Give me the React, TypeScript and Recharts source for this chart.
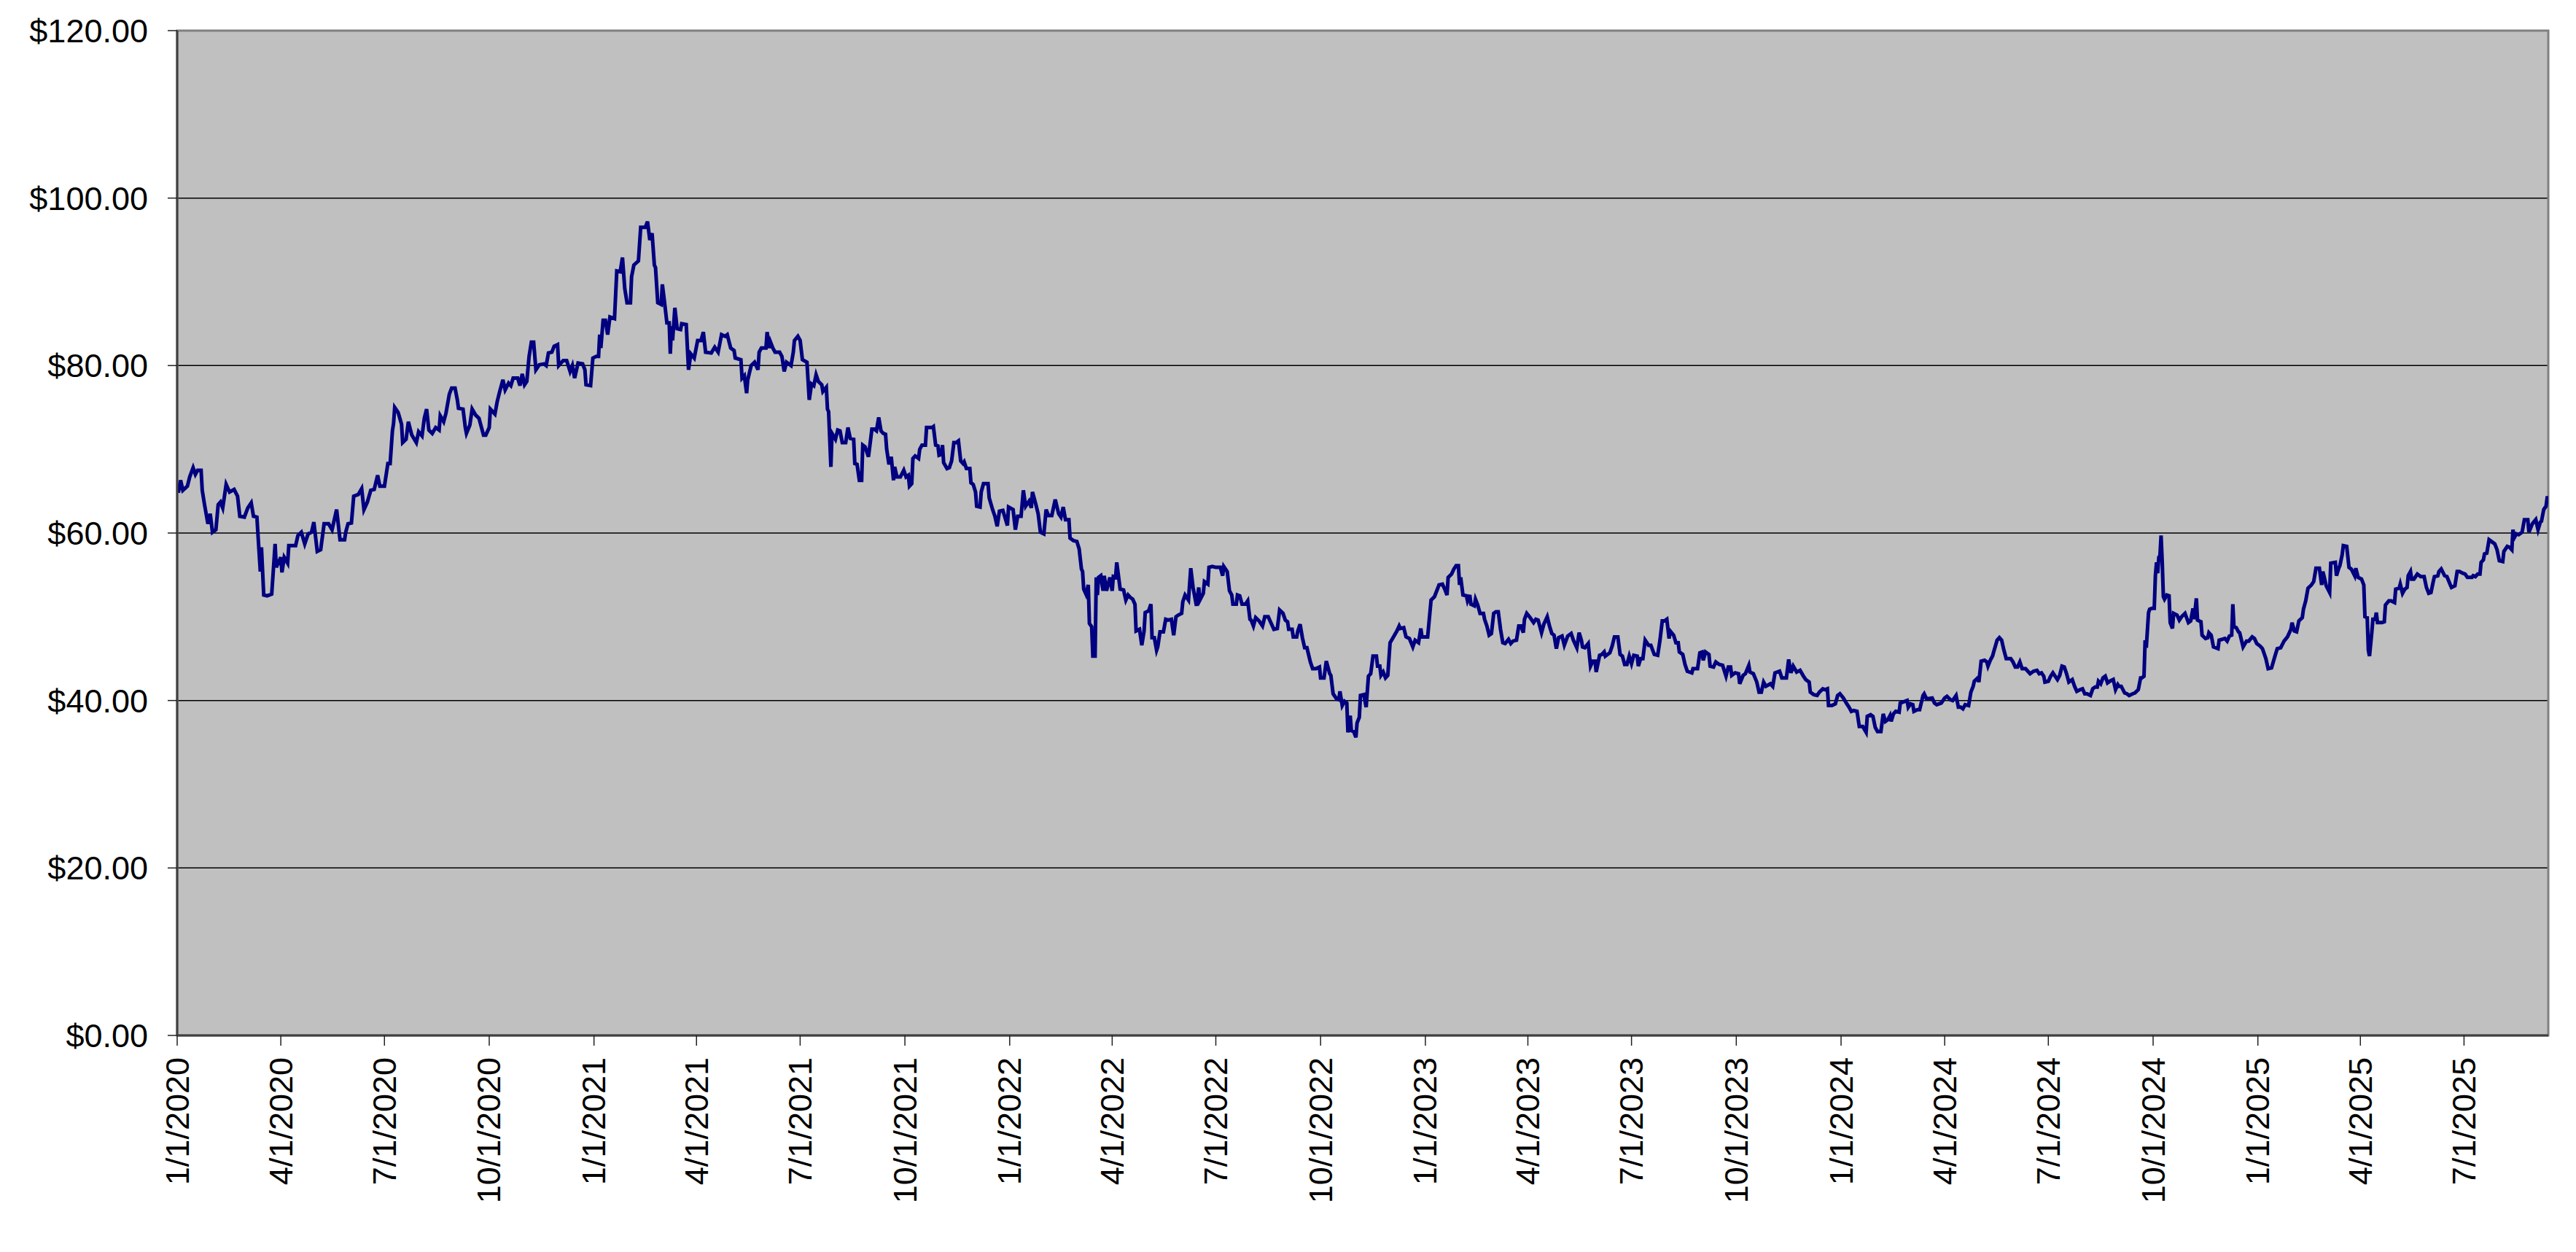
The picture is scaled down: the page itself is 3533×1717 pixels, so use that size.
import React from 'react';
import { LineChart, Line, XAxis, YAxis, CartesianGrid, ReferenceArea } from 'recharts';

// Daily-ish closing prices, as [day of year (0 = Jan 1), price].
const y2020: [number, number][] = [
  [1, 64.8], [3, 66.3], [5, 65.1], [9, 65.6], [11, 66.7], [14, 67.8], [16, 67.0], [18, 67.5], [21, 67.5], [22, 65.1],
  [24, 63.4], [27, 61.1], [29, 62.3], [31, 60.1], [34, 60.4], [36, 63.4], [38, 63.7], [40, 63.0], [43, 65.8], [46, 64.9],
  [50, 65.2], [53, 64.4], [55, 62.0], [59, 61.9], [62, 63.0], [65, 63.6], [67, 62.0], [70, 61.9], [71, 59.7], [73, 55.4],
  [74, 58.3], [76, 52.6], [79, 52.5], [83, 52.7], [86, 58.7], [87, 55.9], [91, 57.1], [92, 55.3], [94, 57.1], [97, 56.4],
  [98, 58.5], [104, 58.5], [106, 59.7], [109, 60.1], [112, 58.7], [115, 59.9], [118, 60.1], [120, 61.3], [123, 57.8], [126, 58.0],
  [129, 61.1], [133, 61.1], [136, 60.4], [140, 62.8], [143, 59.2], [147, 59.2], [148, 60.1], [150, 61.1], [153, 61.2], [155, 64.4],
  [159, 64.6], [162, 65.3], [164, 62.8], [167, 63.7], [170, 65.1], [173, 65.2], [176, 66.9], [178, 65.6], [182, 65.6], [185, 68.3],
  [187, 68.3], [189, 72.2], [190, 73.1], [191, 75.0], [194, 74.4], [197, 73.0], [198, 70.8], [201, 71.2], [203, 73.3], [206, 71.7],
  [210, 70.8], [212, 72.1], [215, 71.6], [217, 73.7], [219, 74.8], [221, 72.3], [224, 71.9], [227, 72.6], [230, 72.3], [231, 74.0],
  [234, 73.3], [236, 74.3], [239, 76.6], [241, 77.3], [244, 77.3], [246, 75.9], [247, 74.9], [251, 74.8], [253, 72.6], [254, 71.9],
  [257, 72.9], [259, 74.8], [262, 74.1], [265, 73.7], [269, 71.7], [271, 71.7], [274, 72.6], [275, 74.8], [279, 74.2], [281, 75.7],
  [283, 76.8], [286, 78.3], [288, 77.1], [291, 77.9], [293, 77.6], [295, 78.5], [299, 78.5], [301, 77.6], [303, 79.0], [305, 77.7],
  [307, 78.1], [309, 81.1], [311, 82.8], [313, 82.8], [315, 79.5], [318, 80.1], [322, 80.2], [324, 80.0], [326, 81.5], [329, 81.6],
  [331, 82.3], [334, 82.5], [335, 80.0], [339, 80.6], [342, 80.6], [345, 79.3], [347, 80.0], [349, 78.5], [352, 80.3], [356, 80.2],
  [358, 79.5], [359, 77.7], [363, 77.6], [365, 80.9],
];

const y2021: [number, number][] = [
  [2, 81.1], [4, 81.1], [5, 83.7], [6, 82.1], [8, 85.4], [10, 85.4], [12, 83.7], [14, 85.8], [18, 85.6], [20, 91.3],
  [23, 91.2], [25, 92.9], [27, 89.2], [29, 87.5], [32, 87.5], [33, 90.6], [35, 92.0], [39, 92.5], [41, 96.5], [45, 96.5],
  [47, 97.2], [49, 95.0], [51, 95.8], [53, 92.0], [54, 91.7], [56, 87.5], [59, 87.3], [60, 89.7], [62, 87.5], [64, 85.1],
  [66, 85.1], [67, 81.4], [68, 84.7], [69, 83.0], [71, 86.9], [73, 84.4], [76, 84.3], [77, 85.0], [81, 84.9], [82, 82.1],
  [83, 79.5], [85, 81.4], [88, 80.9], [91, 83.0], [94, 83.0], [96, 84.0], [98, 81.6], [103, 81.5], [106, 82.2], [109, 81.6],
  [112, 83.7], [115, 83.5], [117, 83.7], [120, 82.1], [123, 81.8], [124, 80.9], [129, 80.7], [130, 78.5], [132, 78.8], [134, 76.7],
  [135, 78.3], [138, 80.0], [141, 80.4], [144, 79.5], [145, 81.6], [147, 82.1], [151, 82.1], [152, 84.0], [154, 82.1], [155, 82.8],
  [157, 82.1], [159, 81.6], [163, 81.6], [165, 81.1], [167, 79.3], [169, 80.4], [173, 80.0], [175, 81.6], [176, 83.0], [179, 83.5],
  [181, 83.0], [183, 80.7], [187, 80.4], [188, 78.1], [189, 75.9], [191, 77.8], [193, 77.6], [195, 78.9], [197, 78.1], [200, 77.7],
  [201, 76.9], [204, 77.4], [205, 74.8], [206, 74.5], [208, 67.9], [209, 71.9], [212, 71.2], [214, 72.3], [216, 72.2], [218, 70.8],
  [221, 70.8], [223, 72.6], [225, 71.3], [228, 71.2], [229, 68.3], [231, 68.2], [233, 66.3], [235, 66.3], [236, 70.5], [238, 70.3],
  [241, 69.1], [244, 72.4], [246, 72.4], [248, 72.2], [250, 73.8], [252, 72.2], [254, 71.9], [256, 71.8], [257, 70.0], [259, 68.2],
  [261, 69.1], [263, 66.3], [264, 67.9], [266, 66.7], [269, 66.7], [272, 67.5], [274, 66.7], [276, 66.9], [277, 65.6], [279, 65.9],
  [280, 68.9], [282, 69.2], [285, 68.9], [286, 70.0], [288, 70.5], [291, 70.5], [292, 72.6], [297, 72.6], [298, 72.7], [300, 70.5],
  [302, 70.4], [303, 69.3], [305, 69.4], [306, 70.5], [307, 68.4], [310, 67.7], [312, 67.8], [314, 68.6], [316, 70.8], [318, 70.8],
  [320, 71.0], [322, 68.6], [324, 68.3], [325, 68.5], [327, 67.7], [330, 67.7], [331, 66.0], [333, 65.8], [335, 64.9], [336, 63.2],
  [339, 63.1], [340, 64.9], [342, 65.9], [346, 65.9], [347, 64.2], [350, 62.8], [352, 62.0], [354, 60.8], [356, 62.6], [359, 62.7],
  [361, 61.8], [363, 60.9], [364, 63.1],
];

const y2022: [number, number][] = [
  [3, 62.8], [5, 60.4], [7, 62.0], [10, 62.0], [12, 65.1], [14, 63.2], [17, 63.8], [19, 63.0], [20, 64.9], [23, 63.4],
  [25, 62.3], [27, 60.1], [30, 59.9], [32, 62.8], [34, 62.1], [37, 62.1], [40, 64.0], [43, 62.3], [45, 61.9], [47, 63.1],
  [49, 61.6], [52, 61.6], [53, 59.4], [56, 59.1], [59, 59.0], [61, 58.1], [63, 55.7], [64, 55.4], [65, 53.3], [67, 52.7],
  [69, 53.8], [70, 49.2], [72, 48.8], [73, 45.3], [75, 45.3], [76, 54.7], [77, 52.6], [78, 54.7], [80, 54.9], [82, 53.1],
  [83, 54.9], [85, 53.1], [88, 54.7], [90, 53.1], [91, 54.8], [93, 54.7], [94, 56.5], [97, 53.3], [100, 53.2], [102, 52.0],
  [104, 52.6], [106, 52.3], [108, 52.1], [110, 51.5], [111, 48.3], [114, 48.5], [116, 46.6], [118, 48.3], [119, 50.5], [122, 50.7],
  [124, 51.5], [125, 47.5], [127, 47.5], [129, 46.0], [130, 46.4], [132, 48.2], [135, 48.2], [137, 49.7], [139, 49.6], [142, 49.7],
  [144, 47.8], [146, 50.0], [148, 50.2], [151, 50.4], [152, 51.8], [154, 52.6], [157, 52.0], [159, 55.8], [161, 53.5], [164, 51.3],
  [166, 53.5], [167, 52.0], [170, 52.8], [171, 54.2], [174, 53.9], [175, 55.9], [178, 56.0], [181, 55.9], [185, 55.9], [187, 54.9],
  [188, 56.0], [191, 55.4], [193, 53.1], [195, 52.6], [196, 51.5], [199, 51.5], [200, 52.6], [202, 52.5], [204, 51.5], [207, 51.5],
  [209, 51.9], [211, 49.7], [212, 49.6], [214, 48.9], [216, 49.9], [219, 49.5], [222, 48.9], [224, 50.0], [227, 50.0], [229, 49.4],
  [232, 48.5], [235, 48.6], [237, 50.8], [240, 50.4], [242, 49.6], [244, 49.4], [245, 48.5], [248, 48.5], [249, 47.6], [252, 47.6],
  [253, 48.3], [255, 49.1], [257, 47.5], [259, 46.3], [261, 46.3], [264, 44.6], [266, 43.8], [269, 43.8], [272, 44.0], [273, 42.7],
  [276, 42.7], [278, 44.7], [281, 43.2], [282, 43.0], [284, 40.8], [287, 40.2], [289, 40.1], [290, 41.1], [292, 39.4], [294, 39.9],
  [296, 39.7], [297, 36.2], [299, 38.2], [300, 36.4], [302, 36.3], [304, 35.6], [305, 37.3], [307, 38.0], [308, 40.6], [311, 40.7],
  [313, 39.2], [315, 42.9], [317, 43.2], [319, 45.3], [322, 45.3], [323, 44.1], [325, 44.1], [326, 43.0], [328, 43.4], [330, 42.7],
  [332, 43.0], [334, 46.9], [337, 47.6], [340, 48.3], [342, 48.9], [343, 48.6], [346, 48.7], [348, 47.6], [351, 47.4], [354, 46.4],
  [356, 47.2], [359, 46.9], [361, 48.6], [362, 47.6],
];

const y2023: [number, number][] = [
  [2, 47.6], [5, 52.0], [8, 52.4], [10, 53.1], [12, 53.8], [15, 53.9], [17, 53.3], [19, 52.6], [20, 54.7], [23, 55.1],
  [25, 55.7], [27, 56.1], [29, 56.1], [30, 53.8], [31, 54.7], [33, 52.6], [36, 52.5], [37, 51.9], [39, 52.6], [40, 51.5],
  [43, 51.3], [44, 52.1], [46, 51.4], [48, 50.4], [51, 50.4], [52, 49.7], [54, 48.9], [56, 47.8], [58, 48.0], [60, 50.4],
  [62, 50.6], [64, 50.6], [66, 48.5], [68, 46.9], [70, 46.8], [73, 47.3], [75, 46.8], [77, 47.1], [80, 47.2], [82, 48.9],
  [84, 48.9], [86, 48.1], [87, 49.7], [89, 50.4], [92, 49.9], [95, 49.3], [97, 49.7], [99, 49.6], [102, 48.1], [104, 49.1],
  [107, 50.0], [109, 48.9], [111, 48.0], [113, 47.8], [115, 46.2], [117, 47.5], [120, 47.7], [122, 46.6], [125, 47.7], [128, 48.0],
  [130, 47.2], [133, 46.3], [135, 48.1], [137, 47.2], [138, 46.4], [140, 46.3], [143, 46.8], [145, 44.1], [147, 44.7], [149, 44.7],
  [150, 43.4], [153, 45.4], [155, 45.5], [157, 45.8], [158, 45.3], [162, 45.7], [164, 46.5], [166, 47.6], [169, 47.6], [171, 45.5],
  [173, 45.3], [175, 44.3], [177, 44.3], [179, 45.3], [181, 44.4], [183, 45.4], [186, 45.3], [187, 44.1], [189, 45.0], [191, 45.0],
  [193, 47.2], [196, 46.6], [198, 46.6], [201, 45.5], [204, 45.4], [206, 47.2], [208, 49.5], [210, 49.5], [212, 49.7], [214, 47.4],
  [215, 48.3], [218, 47.8], [220, 46.9], [222, 46.9], [223, 45.8], [226, 45.5], [228, 44.3], [230, 43.5], [234, 43.3], [235, 43.8],
  [239, 43.8], [241, 45.7], [243, 45.8], [244, 44.8], [246, 45.8], [249, 45.5], [250, 44.1], [253, 44.0], [255, 44.6], [258, 44.3],
  [261, 44.2], [264, 42.9], [266, 44.0], [268, 44.0], [269, 43.0], [272, 43.3], [275, 43.2], [276, 42.0], [279, 43.0], [281, 43.2],
  [284, 44.2], [285, 43.4], [288, 43.2], [291, 42.2], [293, 41.0], [295, 41.0], [297, 42.2], [299, 41.7], [303, 42.0], [305, 41.7],
  [307, 43.3], [311, 43.5], [313, 42.7], [317, 42.7], [319, 44.9], [321, 43.3], [323, 44.1], [326, 43.4], [329, 43.6], [332, 42.9],
  [334, 42.5], [337, 42.2], [338, 41.0], [341, 40.7], [344, 40.6], [346, 41.0], [349, 41.4], [351, 41.3], [353, 41.4], [354, 39.4],
  [357, 39.4], [360, 39.6], [362, 40.6], [364, 40.8],
];

const y2024: [number, number][] = [
  [2, 40.3], [5, 39.6], [7, 39.2], [9, 38.7], [11, 38.8], [14, 38.7], [16, 36.9], [19, 36.9], [22, 36.2], [23, 38.1],
  [26, 38.3], [28, 38.1], [30, 36.8], [32, 36.3], [35, 36.3], [37, 38.4], [39, 37.5], [41, 37.7], [43, 38.2], [44, 37.5],
  [46, 38.4], [48, 38.7], [51, 38.6], [52, 39.7], [56, 39.9], [58, 40.0], [59, 39.2], [61, 39.6], [63, 39.5], [64, 38.7],
  [67, 38.9], [69, 38.9], [72, 40.6], [73, 40.8], [75, 40.2], [80, 40.3], [82, 39.7], [84, 39.5], [88, 39.7], [91, 40.3],
  [93, 40.5], [96, 40.1], [98, 40.0], [101, 40.6], [103, 39.2], [105, 39.2], [107, 39.0], [109, 39.5], [112, 39.4], [114, 41.0],
  [116, 41.7], [117, 42.3], [120, 42.7], [121, 42.2], [123, 44.7], [126, 44.8], [128, 44.6], [129, 44.1], [131, 44.8], [133, 45.3],
  [134, 45.8], [137, 47.2], [139, 47.5], [141, 47.2], [143, 46.0], [145, 45.0], [149, 45.0], [151, 44.6], [153, 44.0], [155, 44.0],
  [157, 44.6], [159, 43.8], [162, 43.8], [164, 43.5], [166, 43.2], [169, 43.5], [172, 43.6], [174, 43.2], [176, 43.3], [178, 42.9],
  [179, 42.2], [182, 42.3], [184, 42.9], [186, 43.3], [188, 42.9], [190, 42.5], [192, 43.0], [194, 44.1], [196, 44.0], [198, 43.2],
  [200, 42.2], [203, 42.5], [205, 41.7], [207, 41.1], [210, 41.3], [212, 41.4], [214, 40.8], [216, 40.8], [219, 40.6], [221, 41.4],
  [223, 41.6], [225, 41.6], [226, 42.3], [228, 42.0], [230, 42.7], [232, 42.9], [234, 42.1], [236, 42.3], [239, 42.5], [241, 41.3],
  [243, 41.9], [244, 41.7], [246, 41.7], [249, 40.9], [251, 40.8], [253, 40.6], [256, 40.8], [258, 40.9], [261, 41.3], [263, 42.7],
  [264, 42.7], [266, 42.9], [267, 47.2], [268, 46.3], [270, 50.5], [271, 50.9], [273, 51.0], [275, 51.0], [276, 54.9], [277, 56.5],
  [278, 55.2], [279, 57.1], [280, 57.3], [281, 59.7], [282, 56.6], [283, 52.4], [284, 52.1], [286, 52.6], [288, 52.5], [289, 49.3],
  [291, 48.6], [292, 50.4], [295, 50.2], [297, 49.6], [299, 50.0], [302, 50.4], [305, 49.3], [307, 49.5], [309, 51.0], [310, 49.7],
  [312, 52.2], [313, 49.6], [316, 49.4], [317, 47.8], [320, 47.4], [322, 47.5], [323, 48.1], [325, 47.8], [327, 46.4], [331, 46.2],
  [332, 47.2], [337, 47.4], [339, 47.1], [341, 47.7], [343, 47.8], [344, 51.5], [345, 48.8], [347, 48.7], [349, 48.2], [350, 48.1],
  [353, 46.4], [356, 47.1], [358, 47.1], [361, 47.6], [363, 47.4], [365, 46.8],
];

const y2025: [number, number][] = [
  [2, 46.5], [4, 46.2], [7, 45.0], [9, 43.8], [12, 43.9], [15, 45.3], [17, 46.2], [20, 46.3], [23, 47.1], [26, 47.6],
  [29, 48.5], [30, 49.3], [32, 48.3], [34, 48.2], [36, 49.5], [39, 49.9], [40, 50.9], [42, 51.9], [44, 53.4], [47, 53.8],
  [49, 54.2], [51, 55.8], [54, 55.8], [56, 53.8], [57, 55.4], [58, 54.9], [60, 53.7], [63, 52.9], [64, 56.4], [68, 56.5],
  [69, 54.9], [71, 55.8], [72, 56.1], [74, 57.4], [75, 58.5], [78, 58.4], [80, 55.9], [82, 55.7], [85, 54.9], [86, 55.8],
  [88, 54.7], [91, 54.5], [93, 53.8], [94, 50.0], [96, 49.9], [97, 46.0], [98, 45.3], [100, 48.1], [101, 49.7], [103, 49.7],
  [104, 50.5], [105, 49.3], [109, 49.3], [111, 49.4], [112, 51.4], [115, 51.9], [117, 51.9], [120, 51.7], [121, 53.3], [124, 53.4],
  [125, 53.9], [127, 52.8], [129, 53.3], [131, 53.5], [132, 54.9], [134, 55.4], [135, 54.5], [137, 54.5], [140, 55.1], [143, 54.8],
  [146, 54.8], [148, 53.5], [150, 52.8], [152, 52.9], [154, 54.2], [155, 54.8], [158, 54.9], [159, 55.4], [161, 55.7], [164, 54.9],
  [166, 54.8], [169, 53.8], [170, 53.5], [173, 53.7], [175, 55.4], [177, 55.4], [180, 55.2], [182, 55.1], [184, 54.7], [188, 54.7],
  [189, 54.9], [191, 54.8], [193, 55.1], [195, 55.1], [196, 56.5], [198, 56.8], [199, 57.5], [201, 57.6], [203, 59.2], [206, 58.9],
  [208, 58.7], [210, 58.0], [212, 56.7], [215, 56.6], [216, 57.8], [219, 58.4], [221, 58.3], [223, 58.0], [224, 60.4], [225, 59.4],
  [227, 59.9], [229, 59.8], [232, 60.1], [234, 61.6], [237, 61.6], [238, 60.1], [241, 61.1], [244, 61.6], [246, 60.4], [248, 61.3],
  [249, 61.4], [251, 62.8], [253, 63.2], [254, 64.2], [255, 64.2],
];

const yearSeries: [number, [number, number][]][] = [
  [2020, y2020], [2021, y2021], [2022, y2022], [2023, y2023], [2024, y2024], [2025, y2025],
];

const xTickLabels = [
  '1/1/2020', '4/1/2020', '7/1/2020', '10/1/2020',
  '1/1/2021', '4/1/2021', '7/1/2021', '10/1/2021',
  '1/1/2022', '4/1/2022', '7/1/2022', '10/1/2022',
  '1/1/2023', '4/1/2023', '7/1/2023', '10/1/2023',
  '1/1/2024', '4/1/2024', '7/1/2024', '10/1/2024',
  '1/1/2025', '4/1/2025', '7/1/2025',
];

const yTicks = [0, 20, 40, 60, 80, 100, 120];

const DAY = 86400000;
const FONT = '"Liberation Sans", Arial, sans-serif';

const parseDate = (s: string) => {
  const [m, d, y] = s.split('/').map(Number);
  return Date.UTC(y, m - 1, d);
};

const data = yearSeries.flatMap(([year, pts]) =>
  pts.map(([d, price]) => ({ t: Date.UTC(year, 0, 1) + d * DAY, price }))
);

const xTicks = xTickLabels.map(parseDate);
const labelFor = new Map(xTicks.map((t, i) => [t, xTickLabels[i]]));
const xStart = xTicks[0];
const xEnd = data[data.length - 1].t;

function DateTick({ x, y, payload }: { x?: number; y?: number; payload?: { value: number } }) {
  if (x == null || y == null || !payload) return null;
  return (
    <g transform={`translate(${x},${y + 16}) rotate(-90)`}>
      <text x={0} y={0} textAnchor="end" dominantBaseline="central" fontSize={45} fontFamily={FONT} fill="#000">
        {labelFor.get(payload.value)}
      </text>
    </g>
  );
}

export default function App() {
  return (
    <div style={{ width: 3533, height: 1717, background: '#fff' }}>
      <style>{'body { margin: 0; }'}</style>
      <LineChart width={3533} height={1717} data={data} margin={{ top: 42, right: 38, left: 0, bottom: 0 }}>
        <CartesianGrid vertical={false} fill="#C0C0C0" fillOpacity={1} stroke="#000" strokeWidth={1.5} />
        <ReferenceArea
          x1={xStart}
          x2={xEnd}
          y1={0}
          y2={120}
          fill="none"
          stroke="#808080"
          strokeWidth={3}
          ifOverflow="visible"
        />
        <XAxis
          dataKey="t"
          type="number"
          domain={[xStart, xEnd]}
          ticks={xTicks}
          interval={0}
          height={297}
          tickSize={14}
          tickMargin={0}
          tick={<DateTick />}
          axisLine={{ stroke: '#404040', strokeWidth: 3 }}
          tickLine={{ stroke: '#202020', strokeWidth: 1.5 }}
          allowDataOverflow
        />
        <YAxis
          type="number"
          domain={[0, 120]}
          ticks={yTicks}
          interval={0}
          width={243}
          tickSize={13}
          tickMargin={27}
          tickFormatter={(v: number) => `$${v.toFixed(2)}`}
          tick={{ fontSize: 45, fontFamily: FONT, fill: '#000' }}
          axisLine={{ stroke: '#404040', strokeWidth: 3 }}
          tickLine={{ stroke: '#202020', strokeWidth: 1.5 }}
        />
        <Line
          type="linear"
          dataKey="price"
          stroke="#000080"
          strokeWidth={5}
          dot={false}
          activeDot={false}
          isAnimationActive={false}
        />
      </LineChart>
    </div>
  );
}
